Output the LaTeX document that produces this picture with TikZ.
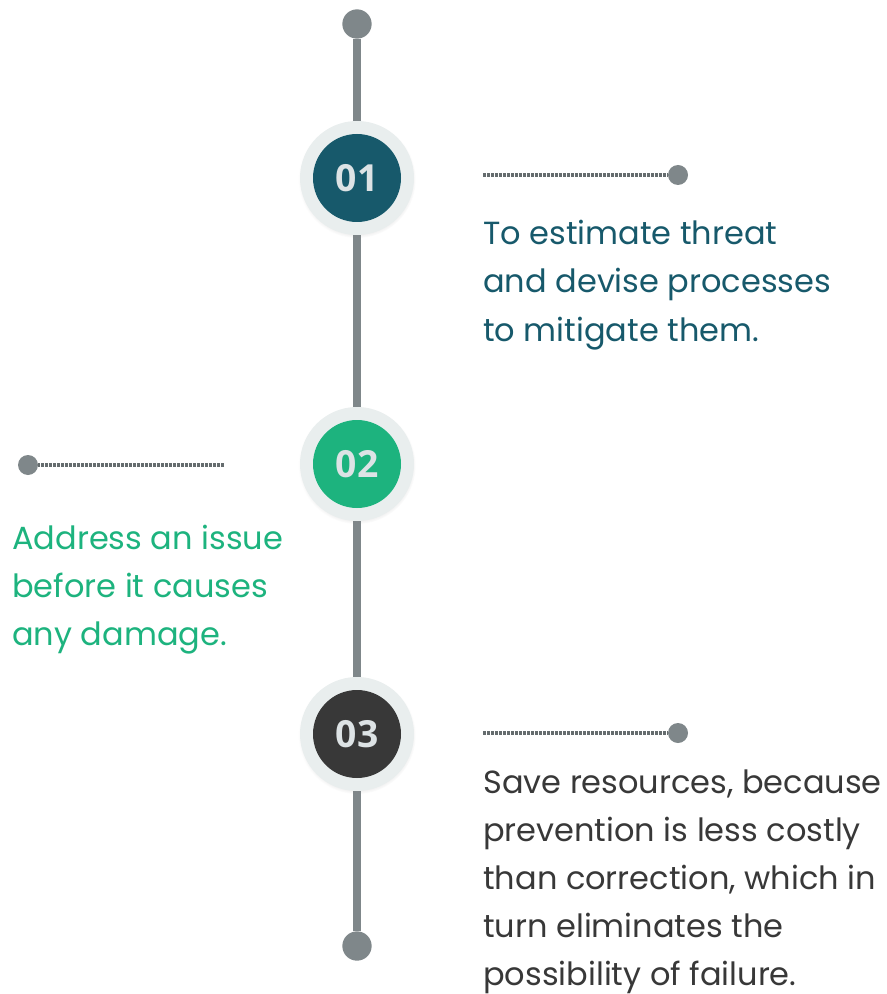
\documentclass[tikz,border=0pt]{standalone}
\usepackage{fontspec}
\setmainfont{Poppins}
\newfontfamily\numfont{Open Sans}
\usetikzlibrary{shadows}
\definecolor{stemgray}{HTML}{7F878A}
\definecolor{ringgray}{HTML}{E9EEEE}
\definecolor{numgray}{HTML}{DDE3E5}
\definecolor{tealA}{HTML}{17596B}
\definecolor{greenB}{HTML}{1DB37E}
\definecolor{darkC}{HTML}{383838}
\tikzset{ring/.style={circle,fill=ringgray,minimum size=85.5pt,inner sep=0,
    circular drop shadow={shadow xshift=0pt,shadow yshift=-1pt,shadow scale=1.03,opacity=.25}},
  badge/.style={circle,fill=#1,minimum size=66pt,inner sep=0,text=numgray,font=\numfont\bfseries\fontsize{28}{28}\selectfont},
  enddot/.style={circle,fill=stemgray,minimum size=22pt,inner sep=0},
  pindot/.style={circle,fill=stemgray,minimum size=15pt,inner sep=0},
  leader/.style={line width=2.5pt,stemgray!80!black,dash pattern=on 2.5pt off .5pt},
  note/.style={anchor=base west,align=left,inner sep=0,text=#1,font=\fontsize{24}{36}\selectfont}}

\begin{document}
\begin{tikzpicture}[x=0.75pt,y=-0.75pt]
\useasboundingbox (0,0) rectangle (887,994);
% the stem
\node[enddot] (top) at (357,24) {};
\node[enddot] (bottom) at (357,946) {};
\draw[line width=6pt,stemgray] (top) -- (bottom);
% the three badges
\node[ring] (r1) at (357,178) {};
\node[badge=tealA] (s1) at (357,178) {01};
\node[ring] (r2) at (357,464) {};
\node[badge=greenB] (s2) at (357,464) {02};
\node[ring] (r3) at (357,734) {};
\node[badge=darkC] (s3) at (357,734) {03};
% leaders
\coordinate (a1) at (483,175);
\node[pindot] (p1) at (678,175) {};
\draw[leader] (a1) -- (p1);
\coordinate (a2) at (224,465);
\node[pindot] (p2) at (28,465) {};
\draw[leader] (a2) -- (p2);
\coordinate (a3) at (483,733);
\node[pindot] (p3) at (678,733) {};
\draw[leader] (a3) -- (p3);
% texts (anchored on the last line)
\node[note=tealA] (t1) at (483,341) {To estimate threat\\and devise processes\\to mitigate them.};
\node[note=greenB] (t2) at (12,645) {Address an issue\\before it causes\\any damage.};
\node[note=darkC] (t3) at (483,985) {Save resources, because\\prevention is less costly\\than correction, which in\\turn eliminates the\\possibility of failure.};
\end{tikzpicture}
\end{document}
